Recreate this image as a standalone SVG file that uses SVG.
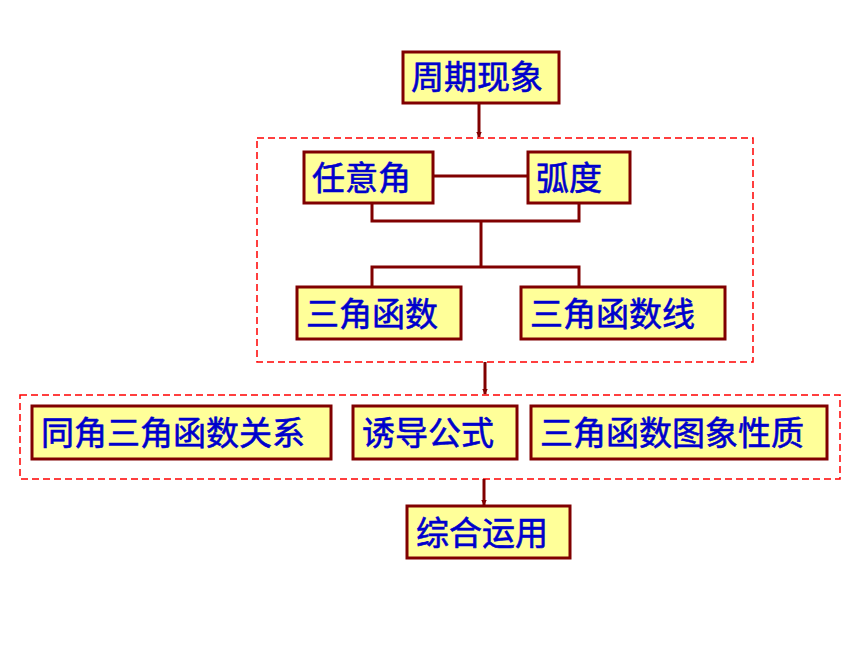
<svg xmlns="http://www.w3.org/2000/svg" width="860" height="645" viewBox="0 0 860 645">
<defs>
<style>
.node rect{fill:#ffff99;stroke:#800000;stroke-width:3}
.node text{font-family:"Noto Sans CJK SC","Noto Sans",sans-serif;font-size:33px;font-weight:normal;fill:#0000cc;stroke:#0000cc;stroke-width:0.6;dominant-baseline:central}
.group{fill:none;stroke:#ff0000;stroke-width:1.5;stroke-dasharray:7 4}
.conn{fill:none;stroke:#800000;stroke-width:3}
</style>
<marker id="ah" viewBox="0 0 6 8" refX="5.5" refY="4" markerWidth="6" markerHeight="8" markerUnits="userSpaceOnUse" orient="auto">
<path d="M0,1 L6,4 L0,7 Z" fill="#800000"/>
</marker>
</defs>
<rect width="860" height="645" fill="#ffffff"/>
<g id="groups">
<rect class="group" x="257" y="138" width="496" height="224"/>
<rect class="group" x="20" y="395" width="820" height="84"/>
</g>
<g id="connectors">
<line class="conn" x1="479" y1="103" x2="479" y2="137" marker-end="url(#ah)"/>
<line class="conn" x1="433" y1="176" x2="528" y2="176"/>
<polyline class="conn" points="372,203 372,221 579,221 579,203"/>
<line class="conn" x1="481" y1="221" x2="481" y2="267"/>
<polyline class="conn" points="372,287 372,267 579,267 579,287"/>
<line class="conn" x1="485" y1="362" x2="485" y2="394" marker-end="url(#ah)"/>
<line class="conn" x1="484" y1="479" x2="484" y2="505" marker-end="url(#ah)"/>
</g>
<g id="n1" class="node"><rect x="403" y="52" width="156" height="51"/><text x="411" y="75">周期现象</text></g>
<g id="n2" class="node"><rect x="304" y="152" width="129" height="51"/><text x="312" y="176">任意角</text></g>
<g id="n3" class="node"><rect x="528" y="152" width="102" height="51"/><text x="536" y="176">弧度</text></g>
<g id="n4" class="node"><rect x="297" y="287" width="164" height="52"/><text x="306" y="312">三角函数</text></g>
<g id="n5" class="node"><rect x="521" y="287" width="204" height="52"/><text x="530" y="312">三角函数线</text></g>
<g id="n6" class="node"><rect x="32" y="406" width="299" height="53"/><text x="41" y="431">同角三角函数关系</text></g>
<g id="n7" class="node"><rect x="353" y="406" width="164" height="53"/><text x="362" y="431">诱导公式</text></g>
<g id="n8" class="node"><rect x="531" y="406" width="296" height="53"/><text x="540" y="431">三角函数图象性质</text></g>
<g id="n9" class="node"><rect x="407" y="506" width="163" height="52"/><text x="416" y="531">综合运用</text></g>
</svg>
